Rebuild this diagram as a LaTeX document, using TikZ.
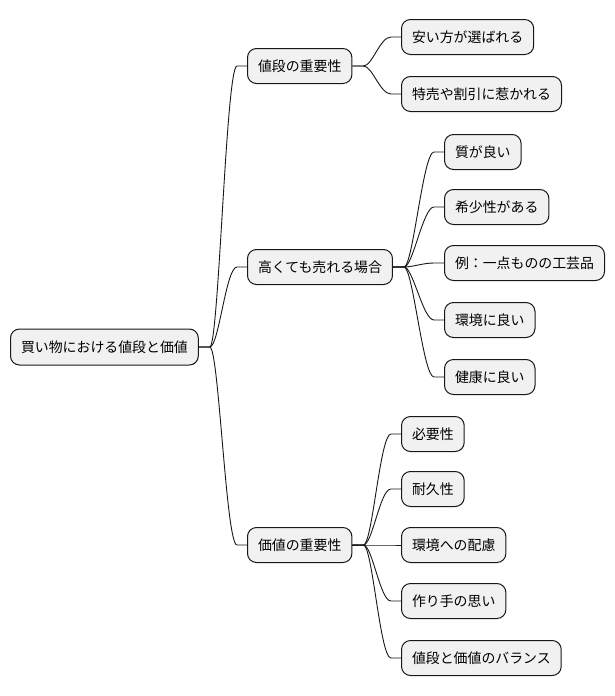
\documentclass[tikz,border=0pt]{standalone}
\usepackage{fontspec}
\newfontfamily\cjk{Noto Sans CJK JP}
\definecolor{boxfill}{HTML}{F1F1F1}
\definecolor{linec}{HTML}{181818}
\begin{document}
\begin{tikzpicture}[x=1pt,y=-1pt,
  box/.style={draw=linec, fill=boxfill, rounded corners=9pt, line width=1pt,
    inner xsep=10.5pt, inner ysep=0pt, minimum height=35pt, anchor=west,
    font=\cjk\fontsize{13.9pt}{16pt}\selectfont, text=black},
  link/.style={line width=0.9pt, draw=linec}]
\fill[white] (0,0) rectangle (614,696);
\useasboundingbox (0,0) rectangle (614,696);
% root
\node[box, minimum height=36pt] (root) at (10,347) {買い物における値段と価値};
% level 1
\node[box] (p1) at (247,66) {値段の重要性};
\node[box] (p2) at (247,267) {高くても売れる場合};
\node[box] (p3) at (247,545) {価値の重要性};
% level 2
\node[box] (a1) at (401,37) {安い方が選ばれる};
\node[box] (a2) at (401,94) {特売や割引に惹かれる};
\node[box] (b1) at (444,152) {質が良い};
\node[box] (b2) at (444,207) {希少性がある};
\node[box, minimum width=158pt] (b3) at (444,263) {例：一点ものの工芸品};
\node[box] (b4) at (444,320) {環境に良い};
\node[box] (b5) at (444,377) {健康に良い};
\node[box] (c1) at (401,434) {必要性};
\node[box] (c2) at (401,489) {耐久性};
\node[box] (c3) at (401,545) {環境への配慮};
\node[box] (c4) at (401,601) {作り手の思い};
\node[box] (c5) at (401,658) {値段と価値のバランス};
% connectors
\foreach \p/\c in {root/p1, root/p2, root/p3, p1/a1, p1/a2, p2/b1, p2/b2, p2/b3, p2/b4, p2/b5, p3/c1, p3/c2, p3/c3, p3/c4, p3/c5}
  \draw[link] (\p.east) -- ++(11,0) .. controls +(9,0) and +(-11,0) .. ([xshift=-10pt]\c.west) -- (\c.west);
\end{tikzpicture}
\end{document}
